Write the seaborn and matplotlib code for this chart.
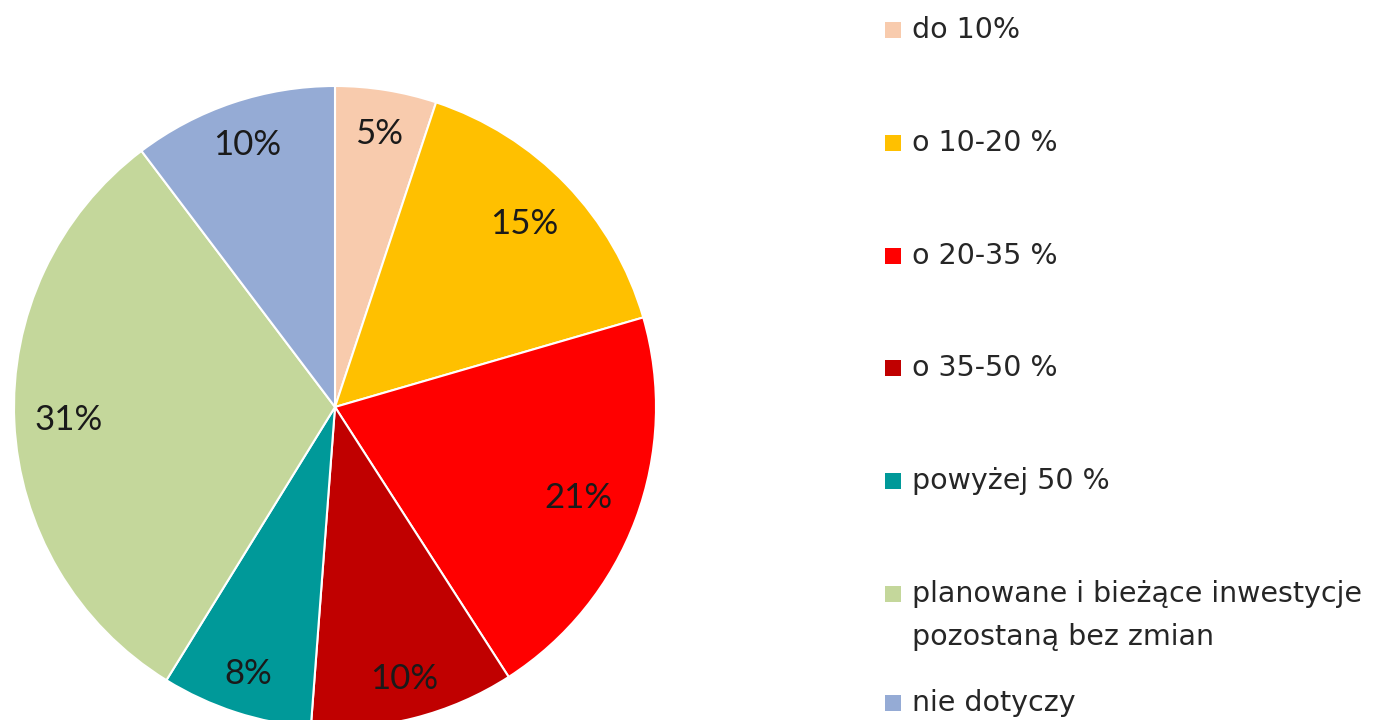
import matplotlib
matplotlib.use("Agg")
import numpy as np
import matplotlib.pyplot as plt
import seaborn as sns
from matplotlib.patches import Rectangle

categories = ["do 10%", "o 10-20 %", "o 20-35 %", "o 35-50 %", "powyżej 50 %",
              "planowane i bieżące inwestycje\npozostaną bez zmian", "nie dotyczy"]
values = [5.1, 15.4, 20.4, 10.3, 7.6, 30.9, 10.3]
pct_labels = ["5%", "15%", "21%", "10%", "8%", "31%", "10%"]
colors = ["#F8CBAD", "#FFC000", "#FF0000", "#C00000", "#009999", "#C4D79B", "#95ABD5"]

# odległość etykiet od środka (jak w Excelu: wąskie wycinki dalej)
label_dist = [0.86, 0.82, 0.81, 0.875, 0.875, 0.83, 0.86]

sns.set_theme(style="white")
plt.rcParams['font.family'] = ['Lato', 'DejaVu Sans']

W, H = 1391, 720
fig = plt.figure(figsize=(W / 100, H / 100), dpi=100)
cx, cy, r = 335, 407, 321
ax = fig.add_axes([(cx - r) / W, (H - cy - r) / H, 2 * r / W, 2 * r / H])

wedges, texts = ax.pie(
    values, colors=colors, startangle=90, counterclock=False,
    labels=pct_labels, labeldistance=0.85, radius=1,
    wedgeprops=dict(edgecolor="white", linewidth=1.5),
    textprops=dict(fontsize=25, color="#1a1a1a"))
for w, t, d in zip(wedges, texts, label_dist):
    ang = np.deg2rad((w.theta1 + w.theta2) / 2)
    t.set_position((d * np.cos(ang), d * np.sin(ang)))
    t.set_horizontalalignment("center")
    t.set_verticalalignment("center")
ax.set_xlim(-1, 1)
ax.set_ylim(-1, 1)
ax.set_aspect("equal")
ax.axis("off")

# legenda
ys = [30, 143, 256, 368, 481, 594, 703]
for lab, col, y in zip(categories, colors, ys):
    fig.patches.append(Rectangle((885 / W, (H - y - 8) / H), 16 / W, 16 / H,
                                 transform=fig.transFigure, facecolor=col,
                                 edgecolor="none"))
    lines = lab.split("\n")
    for k, line in enumerate(lines):
        fig.text(912 / W, (H - y - 43 * k) / H, line, fontsize=20.5,
                 family="DejaVu Sans", color="#262626", va="center", ha="left")

fig.savefig("out.png", dpi=100)
